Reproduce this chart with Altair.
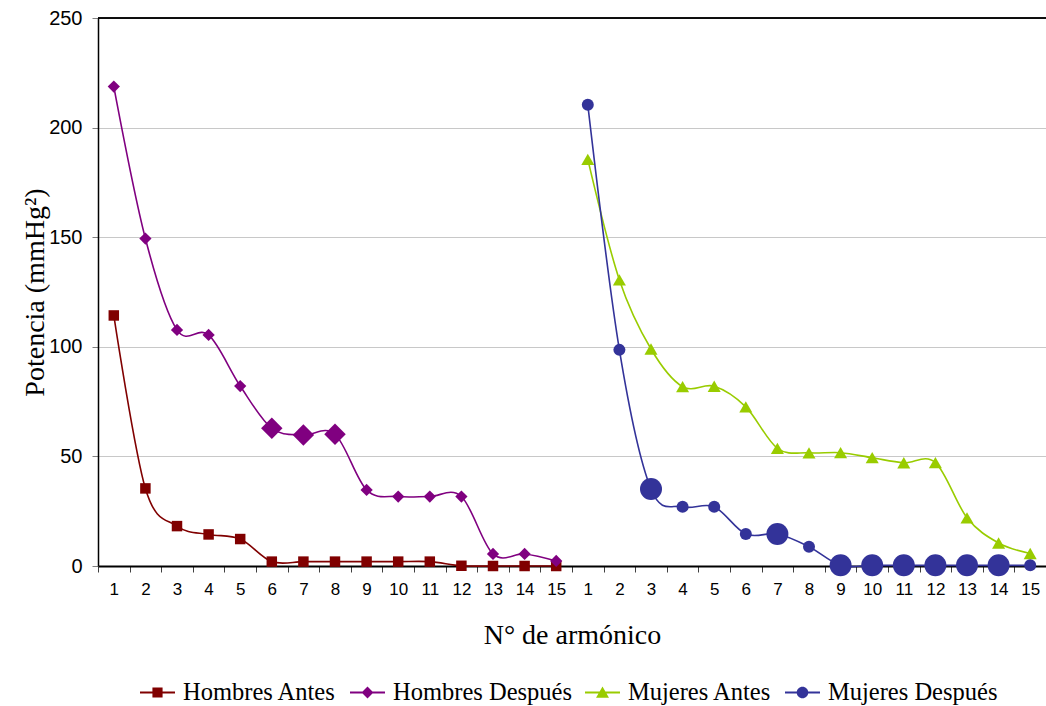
import altair as alt
import pandas as pd

# ---- data ----
armonicos = list(range(1, 16))
series = ["Hombres Antes", "Hombres Después", "Mujeres Antes", "Mujeres Después"]
colores = ["#800000", "#800080", "#99CC00", "#333399"]
formas = ["square", "diamond", "triangle-up", "circle"]

hombres_antes = [114.3, 35.4, 18.2, 14.4, 12.3, 2.0, 2.0, 2.0, 2.0, 2.0, 2.0, 0.1, 0.0, 0.0, 0.0]
hombres_despues = [218.7, 149.4, 107.7, 105.4, 82.1, 62.8, 59.8, 60.1, 34.7, 31.7, 31.7, 31.7, 5.5, 5.5, 2.3]
mujeres_antes = [185.5, 130.5, 99.0, 81.8, 82.0, 72.6, 53.7, 51.6, 51.7, 49.4, 47.1, 47.2, 22.0, 10.5, 5.7]
mujeres_despues = [210.4, 98.6, 35.1, 27.0, 27.0, 14.6, 14.6, 8.8, 0.3, 0.3, 0.3, 0.3, 0.3, 0.3, 0.3]

# harmonics drawn with an enlarged marker
destacados_hd = [6, 7, 8]
destacados_md = [3, 7, 9, 10, 11, 12, 13, 14]

# marker areas (normal, enlarged)
tam_normal = {"Hombres Antes": 110, "Hombres Después": 150, "Mujeres Antes": 170, "Mujeres Después": 144}
tam_grande = {"Hombres Después": 460, "Mujeres Después": 484}

claves = [f"H{n}" for n in armonicos] + [f"M{n}" for n in armonicos]

filas = []
for nombre, valores, pref, destacados in [
    ("Hombres Antes", hombres_antes, "H", []),
    ("Hombres Después", hombres_despues, "H", destacados_hd),
    ("Mujeres Antes", mujeres_antes, "M", []),
    ("Mujeres Después", mujeres_despues, "M", destacados_md),
]:
    for n, v in zip(armonicos, valores):
        grande = n in destacados
        filas.append({
            "serie": nombre,
            "clave": f"{pref}{n}",
            "orden": n,
            "valor": v,
            "tam": tam_grande[nombre] if grande else tam_normal[nombre],
        })
df = pd.DataFrame(filas)

# legend symbols: line segment with the marker on top
linea = "M-1,-0.057H1V0.057H-1Z"
simbolos_leyenda = [
    linea + "M-0.29,-0.29H0.29V0.29H-0.29Z",
    linea + "M-0.34,0L0,-0.34L0.34,0L0,0.34Z",
    linea + "M0,-0.34L0.37,0.3H-0.37Z",
    linea + "M-0.33,0A0.33,0.33 0 1,1 0.33,0A0.33,0.33 0 1,1 -0.33,0Z",
]
df_leyenda = pd.DataFrame({"leyenda": series})

SANS = "Liberation Sans"
SERIF = "Liberation Serif"

x_enc = alt.X(
    "clave:N",
    bandPosition=0.5,
    scale=alt.Scale(type="band", domain=claves, paddingInner=0, paddingOuter=0),
    axis=alt.Axis(
        title="N° de armónico",
        labelExpr="slice(datum.label, 1)",
        labelAngle=0,
        labelFont=SANS,
        labelFontSize=17,
        labelColor="black",
        labelPadding=9,
        tickBand="extent",
        tickSize=6,
        tickColor="#404040",
        domainColor="black",
        domainWidth=2,
        grid=False,
        titleFont=SERIF,
        titleFontSize=28,
        titleFontWeight="normal",
        titleColor="black",
        titleBaseline="alphabetic",
        titleX=474,
        titleY=77,
    ),
)
y_enc = alt.Y(
    "valor:Q",
    scale=alt.Scale(domain=[0, 250], nice=False),
    axis=alt.Axis(
        title="Potencia (mmHg²)",
        values=[0, 50, 100, 150, 200, 250],
        labelFont=SANS,
        labelFontSize=20,
        labelColor="black",
        labelPadding=10,
        tickSize=6,
        tickColor="#808080",
        domainColor="black",
        domainWidth=1.5,
        gridColor="#C8C8C8",
        gridWidth=1,
        titleFont=SERIF,
        titleFontSize=28,
        titleFontWeight="normal",
        titleColor="black",
        titleBaseline="alphabetic",
        titleAngle=270,
        titleX=-55,
        titleY=274,
    ),
)

color_data = alt.Color("serie:N", scale=alt.Scale(domain=series, range=colores), legend=None)

lineas = alt.Chart(df).mark_line(interpolate="cardinal", strokeWidth=1.6).encode(
    x=x_enc, y=y_enc, color=color_data, detail="serie:N", order="orden:Q"
)

puntos = alt.Chart(df).mark_point(filled=True, opacity=1, strokeWidth=0).encode(
    x=x_enc,
    y=y_enc,
    color=color_data,
    shape=alt.Shape("serie:N", scale=alt.Scale(domain=series, range=formas), legend=None),
    size=alt.Size("tam:Q", scale=None),
)

borde_sup = alt.Chart(df_leyenda).mark_rule(color="black", strokeWidth=1).encode(y=alt.datum(250))

leyenda_props = dict(
    title=None,
    orient="none",
    direction="horizontal",
    legendX=42,
    legendY=657,
    symbolSize=1225,
    symbolOpacity=1,
    symbolStrokeWidth=0,
    labelFont=SERIF,
    labelFontSize=24.5,
    labelColor="black",
    labelOffset=8,
    labelLimit=400,
    columnPadding=13,
    padding=0,
)
leyenda = alt.Chart(df_leyenda).mark_point(filled=True, opacity=0).encode(
    color=alt.Color("leyenda:N", scale=alt.Scale(domain=series, range=colores),
                    legend=alt.Legend(**leyenda_props)),
    shape=alt.Shape("leyenda:N", scale=alt.Scale(domain=series, range=simbolos_leyenda),
                    legend=alt.Legend(**leyenda_props)),
)

chart = (
    alt.layer(lineas, borde_sup, puntos, leyenda)
    .resolve_scale(color="independent", shape="independent")
    .properties(
        width=948,
        height=548,
        autosize=alt.AutoSizeParams(type="none"),
        padding={"left": 98, "top": 18, "right": 0, "bottom": 140},
        background="white",
    )
    .configure_view(stroke=None)
)

chart.save("out.html", embed_options={"renderer": "svg", "actions": False})
